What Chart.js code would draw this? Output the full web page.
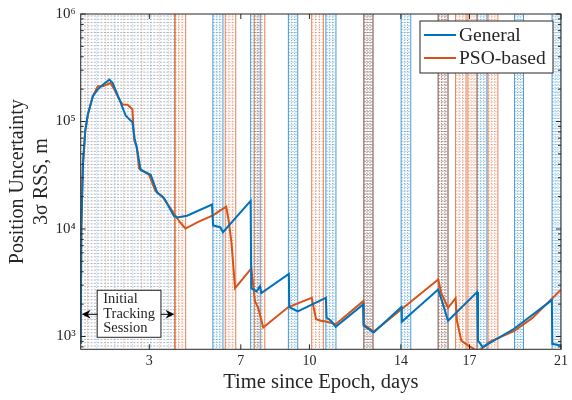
<!DOCTYPE html>
<html>
<head>
<meta charset="utf-8">
<script src="https://cdn.jsdelivr.net/npm/chart.js@4.4.0/dist/chart.umd.min.js"></script>
<style>
  html, body { margin: 0; padding: 0; background: #fff; }
</style>
</head>
<body>
<canvas id="rssChart" width="572" height="400"></canvas>
<script>
// days since epoch / 3-sigma position RSS in metres
const generalDays = [0, 0.026, 0.10, 0.20, 0.316, 0.532, 0.749, 0.965, 1.255, 1.40, 1.69, 1.97, 2.26, 2.36, 2.46, 2.62, 3.06, 3.35, 3.64, 4.07, 4.21, 4.65, 5.74, 5.79, 6.10, 6.22, 7.43, 7.46, 7.69, 7.84, 7.90, 9.10, 9.12, 9.49, 10.72, 10.75, 10.94, 11.15, 12.35, 12.37, 12.81, 14.02, 14.04, 15.63, 15.84, 16.06, 17.33, 17.37, 17.58, 18.95, 20.60, 20.62, 21.0];
const generalRSS = [850, 10000, 40800, 82400, 117000, 172000, 199000, 220000, 245000, 228000, 161000, 113000, 98400, 69200, 56000, 35400, 31900, 21700, 19500, 13300, 12800, 13300, 16900, 10800, 10400, 9330, 18300, 2820, 2630, 2930, 2540, 3820, 1880, 1710, 2290, 1500, 1400, 1230, 1990, 1260, 1090, 1880, 1370, 2730, 2000, 1400, 2590, 916, 796, 1180, 2180, 855, 826];

const psoDays = [0, 0.026, 0.10, 0.20, 0.316, 0.532, 0.749, 0.965, 1.30, 1.47, 1.645, 1.83, 2.05, 2.26, 2.34, 2.45, 2.55, 2.77, 2.99, 3.27, 3.56, 3.85, 4.14, 4.35, 4.58, 5.16, 5.78, 6.36, 6.46, 6.59, 6.75, 7.46, 7.62, 7.76, 7.98, 9.08, 10.10, 10.29, 10.50, 10.72, 11.15, 12.35, 12.37, 12.81, 14.04, 15.63, 15.77, 16.06, 16.39, 16.45, 16.64, 16.93, 17.29, 17.50, 17.86, 18.96, 19.74, 21.0];
const psoRSS = [850, 10000, 40800, 82400, 117000, 172000, 213000, 213000, 228000, 199000, 167000, 144000, 143000, 130000, 66700, 58000, 36700, 34300, 31900, 22500, 20200, 16400, 13300, 11500, 10100, 11700, 13400, 16100, 12400, 7550, 2820, 4300, 2130, 1850, 1210, 1880, 2290, 1450, 1400, 1380, 1300, 2130, 1300, 1110, 1800, 3390, 2520, 1850, 2270, 1400, 916, 826, 743, 760, 885, 1130, 1480, 2730];

// tracking passes (days)
const initialSession = [0, 4.12];
const generalPassStart = [5.78, 7.43, 9.08, 10.72, 12.38, 14.01, 15.63, 17.33, 18.97, 20.61];
const generalPassEnd   = [6.22, 7.85, 9.49, 11.16, 12.78, 14.43, 16.06, 17.76, 19.36, 21.0];
const psoPassStart = [4.12, 6.32, 7.59, 10.10, 12.38, 15.63, 16.39, 16.93, 17.81];
const psoPassEnd   = [4.59, 6.78, 8.05, 10.61, 12.78, 16.06, 16.85, 17.33, 18.24];

const xTicks = [3, 7, 10, 14, 17, 21];
const yTicks = [1e3, 1e4, 1e5, 1e6];
const yTickLabels = ["10³", "10⁴", "10⁵", "10⁶"];

const BLUE = "#0072BD";
const ORANGE = "#D95319";
const FONT = '"Liberation Serif", "Times New Roman", serif';

const toPoints = (xs, ys) => xs.map((d, i) => ({ x: d, y: ys[i] }));

// hatched pass bands behind the curves
const passHatch = {
  id: "passHatch",
  beforeDatasetsDraw(chart) {
    const { ctx, chartArea: a, scales: { x } } = chart;
    ctx.save();
    ctx.beginPath();
    ctx.rect(a.left, a.top, a.width, a.height);
    ctx.clip();
    ctx.lineWidth = 1;
    const vline = (px) => {
      ctx.beginPath();
      ctx.moveTo(px, a.top);
      ctx.lineTo(px, a.bottom);
      ctx.stroke();
    };
    const rows = (x0, x1, color) => {
      ctx.strokeStyle = color;
      ctx.setLineDash([2, 1.3]);
      for (let yy = a.top + 2; yy < a.bottom; yy += 3.3) {
        ctx.beginPath();
        ctx.moveTo(x0, yy);
        ctx.lineTo(x1, yy);
        ctx.stroke();
      }
    };
    const drawBand = (d0, d1, rgb) => {
      const x0 = x.getPixelForValue(d0);
      const x1 = x.getPixelForValue(d1);
      const w = x1 - x0;
      rows(x0, x1, `rgba(${rgb},0.4)`);
      ctx.setLineDash([1, 1.6]);
      ctx.strokeStyle = `rgba(${rgb},0.6)`;
      vline(x0 + w / 3);
      vline(x0 + (2 * w) / 3);
      ctx.setLineDash([]);
      ctx.strokeStyle = `rgba(${rgb},0.7)`;
      vline(x0);
      vline(x1);
    };

    // initial session: dense grey rows with sparse dotted columns
    const i0 = x.getPixelForValue(initialSession[0]);
    const i1 = x.getPixelForValue(initialSession[1]);
    rows(i0, i1, "rgba(120,135,155,0.6)");
    ctx.setLineDash([1, 1.6]);
    for (let px = i0 + 7, k = 0; px < i1 - 3; px += 9, k++) {
      ctx.strokeStyle = k % 2 ? "rgba(0,114,189,0.35)" : "rgba(217,83,25,0.45)";
      vline(px);
    }
    ctx.setLineDash([]);
    ctx.strokeStyle = "rgba(217,83,25,0.9)";
    vline(i1);

    generalPassStart.forEach((s, i) => drawBand(s, generalPassEnd[i], "0,114,189"));
    psoPassStart.forEach((s, i) => drawBand(s, psoPassEnd[i], "217,83,25"));
    ctx.restore();
  },
};

// box and inward MATLAB-style ticks
const axisFrame = {
  id: "axisFrame",
  afterDatasetsDraw(chart) {
    const { ctx, chartArea: a, scales: { x, y } } = chart;
    ctx.save();
    ctx.strokeStyle = "#262626";
    ctx.lineWidth = 1;
    ctx.beginPath();
    xTicks.forEach((v) => {
      const px = x.getPixelForValue(v);
      ctx.moveTo(px, a.bottom);
      ctx.lineTo(px, a.bottom - 5);
      ctx.moveTo(px, a.top);
      ctx.lineTo(px, a.top + 5);
    });
    for (let e = 2; e <= 6; e++) {
      for (let m = 1; m < 10; m++) {
        const v = m * Math.pow(10, e);
        if (v < y.min || v > y.max) continue;
        const py = y.getPixelForValue(v);
        const len = m === 1 ? 5 : 3;
        ctx.moveTo(a.left, py);
        ctx.lineTo(a.left + len, py);
        ctx.moveTo(a.right, py);
        ctx.lineTo(a.right - len, py);
      }
    }
    ctx.stroke();
    ctx.strokeRect(a.left, a.top, a.width, a.height);
    ctx.restore();
  },
};

// "Initial Tracking Session" note with arrows
const sessionNote = {
  id: "sessionNote",
  afterDatasetsDraw(chart) {
    const { ctx, chartArea: a, scales: { x } } = chart;
    const x0 = x.getPixelForValue(initialSession[0]);
    const x1 = x.getPixelForValue(initialSession[1]);
    const bx0 = x0 + 16.5;
    const bx1 = x1 - 14;
    const by1 = a.bottom - 12;
    const by0 = by1 - 47;
    const ym = (by0 + by1) / 2 + 0.5;
    ctx.save();
    ctx.fillStyle = "#fff";
    ctx.fillRect(bx0, by0, bx1 - bx0, by1 - by0);
    ctx.strokeStyle = "#262626";
    ctx.lineWidth = 1;
    ctx.strokeRect(bx0, by0, bx1 - bx0, by1 - by0);
    ctx.fillStyle = "#262626";
    ctx.font = `14.5px ${FONT}`;
    ctx.textBaseline = "middle";
    ["Initial", "Tracking", "Session"].forEach((t, i) => ctx.fillText(t, bx0 + 6, by0 + 9 + i * 14.6));
    const arrow = (from, tip) => {
      const dir = Math.sign(tip - from);
      ctx.beginPath();
      ctx.moveTo(from, ym);
      ctx.lineTo(tip - dir * 5, ym);
      ctx.stroke();
      ctx.beginPath();
      ctx.moveTo(tip, ym);
      ctx.lineTo(tip - dir * 9, ym - 4.5);
      ctx.lineTo(tip - dir * 6, ym);
      ctx.lineTo(tip - dir * 9, ym + 4.5);
      ctx.closePath();
      ctx.fill();
    };
    ctx.strokeStyle = "#000";
    ctx.fillStyle = "#000";
    arrow(bx0, x0 + 1);
    arrow(bx1, x1 - 0.5);
    ctx.restore();
  },
};

// boxed legend in the upper right corner
const boxLegend = {
  id: "boxLegend",
  afterDraw(chart) {
    const { ctx, chartArea: a } = chart;
    const w = 133, h = 52;
    const left = a.right - 8 - w;
    const top = a.top + 7;
    ctx.save();
    ctx.fillStyle = "#fff";
    ctx.fillRect(left, top, w, h);
    ctx.strokeStyle = "#262626";
    ctx.lineWidth = 1;
    ctx.strokeRect(left, top, w, h);
    ctx.font = `19.5px ${FONT}`;
    ctx.textBaseline = "middle";
    chart.data.datasets.forEach((ds, i) => {
      const yy = top + 14 + i * 23;
      ctx.strokeStyle = ds.borderColor;
      ctx.lineWidth = 2;
      ctx.beginPath();
      ctx.moveTo(left + 4, yy);
      ctx.lineTo(left + 36, yy);
      ctx.stroke();
      ctx.fillStyle = "#262626";
      ctx.fillText(ds.label, left + 39, yy + 1);
    });
    ctx.restore();
  },
};

new Chart(document.getElementById("rssChart"), {
  type: "line",
  data: {
    datasets: [
      {
        label: "General",
        data: toPoints(generalDays, generalRSS),
        borderColor: BLUE,
        borderWidth: 2,
        pointRadius: 0,
        tension: 0,
      },
      {
        label: "PSO-based",
        data: toPoints(psoDays, psoRSS),
        borderColor: ORANGE,
        borderWidth: 2,
        pointRadius: 0,
        tension: 0,
      },
    ],
  },
  options: {
    responsive: false,
    animation: false,
    devicePixelRatio: 1,
    layout: { padding: { left: 0, top: 8, right: 6, bottom: 0 } },
    plugins: {
      legend: { display: false },
      tooltip: { enabled: false },
    },
    scales: {
      x: {
        type: "linear",
        min: 0,
        max: 21,
        grid: { display: false, drawTicks: false },
        border: { display: false },
        afterBuildTicks: (s) => { s.ticks = xTicks.map((v) => ({ value: v })); },
        afterFit: (s) => { s.height = 50.7; },
        ticks: {
          padding: 4,
          color: "#262626",
          font: { family: FONT, size: 14 },
          maxRotation: 0,
          callback: (v) => String(v),
        },
        title: {
          display: true,
          text: "Time since Epoch, days",
          color: "#262626",
          font: { family: FONT, size: 20.5 },
          padding: { top: 0, bottom: 5.5 },
        },
      },
      y: {
        type: "logarithmic",
        min: 760,
        max: 1e6,
        grid: { display: false, drawTicks: false },
        border: { display: false },
        afterBuildTicks: (s) => { s.ticks = yTicks.map((v) => ({ value: v })); },
        afterFit: (s) => { s.width = 80.7; },
        ticks: {
          padding: 5,
          color: "#262626",
          font: { family: FONT, size: 15 },
          callback: (v) => yTickLabels[yTicks.indexOf(v)] ?? "",
        },
        title: {
          display: true,
          text: ["Position Uncertainty", "3σ RSS, m"],
          color: "#262626",
          font: { family: FONT, size: 20 },
          padding: { top: 5.5, bottom: 0 },
        },
      },
    },
  },
  plugins: [passHatch, axisFrame, sessionNote, boxLegend],
});
</script>
</body>
</html>
